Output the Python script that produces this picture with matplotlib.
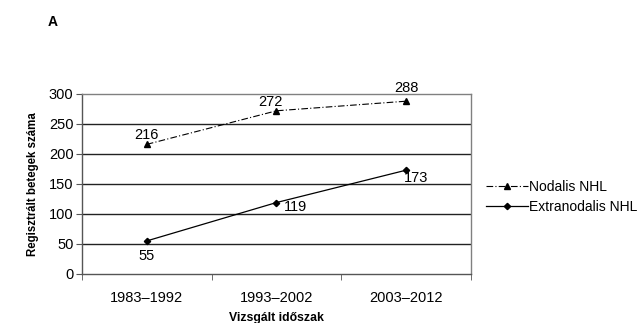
import matplotlib
matplotlib.use("Agg")
import matplotlib.pyplot as plt

plt.rcParams['font.family'] = ['Liberation Sans', 'DejaVu Sans']

categories = ["1983\u20131992", "1993\u20132002", "2003\u20132012"]
nodalis = [216, 272, 288]
extranodalis = [55, 119, 173]
yticks = [0, 50, 100, 150, 200, 250, 300]

fig = plt.figure(figsize=(6.4, 3.23), dpi=100)
ax = fig.add_axes([0.128, 0.152, 0.608, 0.557])

x = list(range(len(categories)))
ln1, = ax.plot(x, nodalis, linestyle=(0, (6, 2, 1, 2)), color='black', lw=0.8,
               marker='^', markersize=5, label='Nodalis NHL')
ln2, = ax.plot(x, extranodalis, linestyle='-', color='black', lw=0.9,
               marker='D', markersize=3.2, label='Extranodalis NHL')

ax.set_xlim(-0.5, len(categories) - 0.5)
ax.set_ylim(0, 300)
ax.set_yticks(yticks)
ax.set_xticks(x)
ax.set_xticklabels(categories, fontsize=10.5)
ax.tick_params(axis='x', length=0, pad=12)
ax.set_xticks([-0.5, 0.5, 1.5, 2.5], minor=True)
ax.tick_params(axis='x', which='minor', length=4, direction='out', color='#555555')
ax.tick_params(axis='y', labelsize=10.5, length=4, direction='out', color='#555555', pad=2)

for yv in yticks[1:-1]:
    ax.axhline(yv, color='#222222', lw=1.0, zorder=0)
for s in ax.spines.values():
    s.set_color('#808080')
    s.set_linewidth(1.0)
ax.spines['left'].set_color('#555555')
ax.spines['bottom'].set_color('#555555')

ax.set_ylabel('Regisztrált betegek száma', fontsize=8.3, fontweight='bold', labelpad=7)
ax.set_xlabel('Vizsgált időszak', fontsize=8.8, fontweight='bold', labelpad=5)

nod_off = [(0, 6.5), (-4, 6.5), (0, 9.5)]
ext_off = [(0, -11), (14, -3), (7, -5.5)]
for xi, v, o in zip(x, nodalis, nod_off):
    ax.annotate(str(v), (xi, v), xytext=o, textcoords='offset points',
                ha='center', va='center', fontsize=10.5)
for xi, v, o in zip(x, extranodalis, ext_off):
    ax.annotate(str(v), (xi, v), xytext=o, textcoords='offset points',
                ha='center', va='center', fontsize=10.5)

fig.legend(handles=[ln1, ln2], loc='center left', bbox_to_anchor=(0.74, 0.39),
           frameon=False, fontsize=10, handlelength=3.0, handletextpad=0.1,
           labelspacing=0.45)

fig.text(0.083, 0.932, 'A', fontsize=10, fontweight='bold', ha='center', va='center')

fig.savefig('out.png', dpi=100)
